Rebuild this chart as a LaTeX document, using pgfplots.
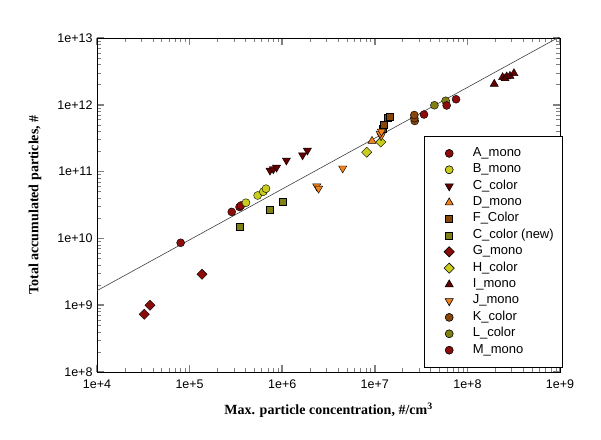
\documentclass[border=0pt]{standalone}
\usepackage{pgfplots}
\pgfplotsset{compat=1.18}
\usepackage{fontspec}
\setmainfont{Liberation Sans}
\newfontfamily\timesfont{Liberation Serif}

\definecolor{dkred}{RGB}{140,12,12}
\definecolor{maroon}{RGB}{100,0,0}
\definecolor{ygreen}{RGB}{200,205,30}
\definecolor{orng}{RGB}{240,130,30}
\definecolor{brwn}{RGB}{135,70,10}
\definecolor{olive}{RGB}{128,128,20}

\begin{document}
\begin{tikzpicture}
\path[use as bounding box] (0,0) rectangle (601pt,439pt);
\begin{axis}[
  at={(97pt,67pt)}, anchor=south west,
  width=463pt, height=334pt, scale only axis,
  xmode=log, ymode=log,
  xmin=1e4, xmax=1e9, ymin=1e8, ymax=1e13,
  xtick={1e4,1e5,1e6,1e7,1e8,1e9},
  xticklabels={1e+4,1e+5,1e+6,1e+7,1e+8,1e+9},
  ytick={1e8,1e9,1e10,1e11,1e12,1e13},
  yticklabels={1e+8,1e+9,1e+10,1e+11,1e+12,1e+13},
  tick align=inside,
  major tick length=7pt, minor tick length=4pt,
  major tick style={line width=1.5pt},
  minor tick style={line width=0.5pt},
  axis line style={line width=0.8pt},
  tick label style={font=\fontsize{12.5}{12.5}\selectfont},
  xticklabel style={yshift=-4pt},
  yticklabel style={xshift=-1pt},
  xlabel={Max. particle concentration, \#/cm\textsuperscript{3}},
  xlabel style={font=\timesfont\bfseries\fontsize{14}{14}\selectfont,
    at={(axis description cs:0.5,-0.114)}, anchor=center},
  ylabel={Total accumulated particles, \#},
  ylabel style={font=\timesfont\bfseries\fontsize{14}{14}\selectfont,
    at={(axis description cs:-0.134,0.5)}, anchor=center},
  legend style={at={(axis description cs:1.0065,0.012)}, anchor=south east,
    draw=black, line width=0.6pt, font=\fontsize{13}{13}\selectfont,
    inner xsep=9pt, inner ysep=11.5pt, row sep=4.4pt, column sep=18.5pt,
    nodes={inner sep=0pt, text height=9pt, text depth=3pt}},
  legend image code/.code={\path (-16pt,0pt);
    \draw[#1] plot coordinates {(0pt,0pt)};},
  legend cell align=left,
  every axis plot/.append style={only marks, mark options={draw=black, line width=0.5pt}},
]
% power-law fit line
\addplot[forget plot, black!75, line width=0.6pt, mark=none, only marks=false, sharp plot]
  coordinates {(1e4,1.65e9) (1e9,1.05e13)};

% A_mono
\addplot[mark=*, mark size=4pt, mark options={fill=dkred}] coordinates {
  (8.0e4,8.6e9) (2.85e5,2.49e10) (3.46e5,2.95e10) (3.59e5,3.11e10)};
% B_mono
\addplot[mark=*, mark size=4pt, mark options={fill=ygreen}] coordinates {
  (4.06e5,3.42e10) (5.43e5,4.39e10) (6.25e5,5.0e10) (6.68e5,5.55e10)};
% C_color
\addplot[mark=triangle*, mark size=4.7pt, mark options={fill=maroon, rotate=180}] coordinates {
  (7.38e5,1.04e11) (8.01e5,1.09e11) (8.68e5,1.15e11) (1.11e6,1.47e11)
  (1.66e6,1.76e11) (1.87e6,2.07e11)};
% D_mono
\addplot[mark=triangle*, mark size=4.7pt, mark options={fill=orng}] coordinates {
  (9.33e6,2.87e11)};
% F_Color
\addplot[mark=square*, mark size=3.5pt, mark options={fill=brwn}] coordinates {
  (1.21e7,4.35e11) (1.24e7,5.0e11) (1.37e7,6.46e11) (1.46e7,6.6e11)};
% C_color (new)
\addplot[mark=square*, mark size=3.5pt, mark options={fill=olive}] coordinates {
  (3.5e5,1.5e10) (7.38e5,2.66e10) (1.01e6,3.54e10)};
% G_mono
\addplot[mark=square*, mark size=3.6pt, mark options={fill=dkred, rotate=45}] coordinates {
  (3.24e4,7.3e8) (3.73e4,1.0e9) (1.36e5,2.9e9)};
% H_color
\addplot[mark=square*, mark size=3.6pt, mark options={fill=ygreen, rotate=45}] coordinates {
  (8.17e6,1.95e11) (1.16e7,2.77e11)};
% I_mono
\addplot[mark=triangle*, mark size=4.7pt, mark options={fill=maroon}] coordinates {
  (1.95e8,2.05e12) (2.4e8,2.58e12) (2.55e8,2.48e12) (2.66e8,2.64e12)
  (2.88e8,2.7e12) (3.18e8,2.96e12)};
% J_mono
\addplot[mark=triangle*, mark size=4.7pt, mark options={fill=orng, rotate=180}] coordinates {
  (2.36e6,6.03e10) (2.47e6,5.58e10) (4.5e6,1.12e11)
  (1.17e7,3.41e11) (1.14e7,3.72e11) (1.18e7,3.98e11)};
% K_color
\addplot[mark=*, mark size=4pt, mark options={fill=brwn}] coordinates {
  (2.7e7,5.72e11) (2.67e7,6.3e11) (2.67e7,7.03e11)};
% L_color
\addplot[mark=*, mark size=4pt, mark options={fill=olive}] coordinates {
  (4.4e7,9.84e11) (5.82e7,1.15e12)};
% M_mono
\addplot[mark=*, mark size=4pt, mark options={fill=dkred}] coordinates {
  (3.4e7,7.16e11) (5.97e7,9.77e11) (7.54e7,1.21e12)};

\legend{A\_mono, B\_mono, C\_color, D\_mono, F\_Color, C\_color (new),
  G\_mono, H\_color, I\_mono, J\_mono, K\_color, L\_color, M\_mono}
\end{axis}
\end{tikzpicture}
\end{document}
